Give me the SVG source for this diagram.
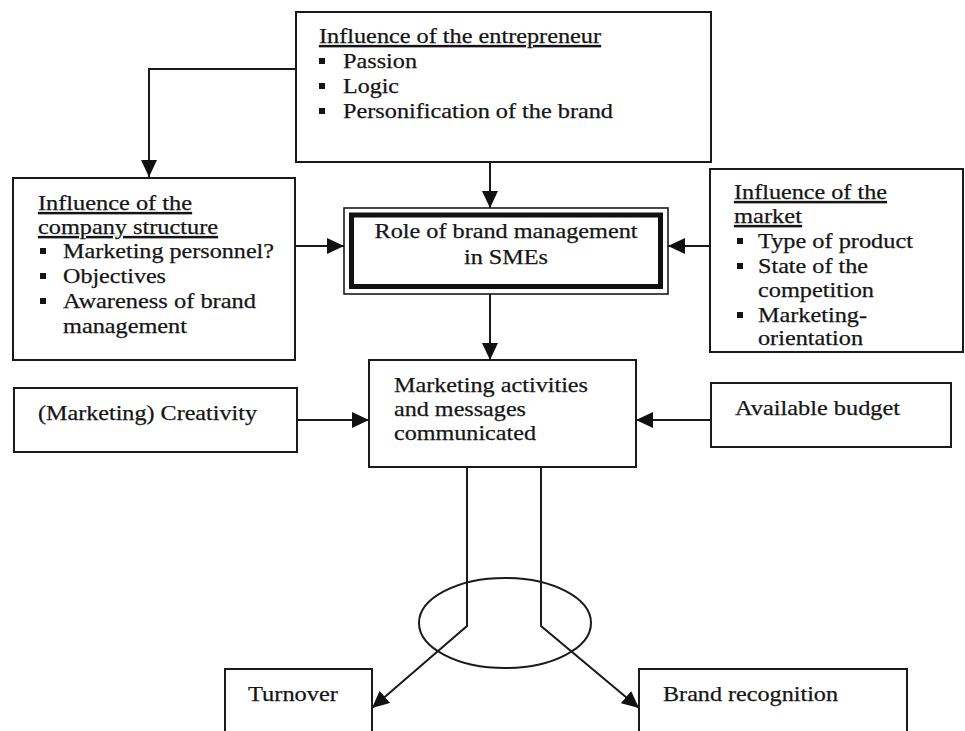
<svg xmlns="http://www.w3.org/2000/svg" width="965" height="731" viewBox="0 0 965 731">
  <style>
    .box { fill: #ffffff; stroke: #1a1a1a; stroke-width: 2; }
    .t { font-family: "Liberation Serif", "Times New Roman", serif; font-size: 21.5px; fill: #151515; stroke: #151515; stroke-width: 0.25px; }
    .u { text-decoration: underline; }
    .bul { fill: #151515; }
    .wire { fill: none; stroke: #1a1a1a; stroke-width: 2; }
    .arrow { fill: none; stroke: #1a1a1a; stroke-width: 2; marker-end: url(#head); }
  </style>
  <defs>
    <marker id="head" markerUnits="userSpaceOnUse" markerWidth="18" markerHeight="16" refX="17" refY="8" orient="auto">
      <path d="M0,0 L17,8 L0,16 z" fill="#111"/>
    </marker>
  </defs>
  <rect width="965" height="731" fill="#ffffff"/>

  <!-- connectors -->
  <g id="connectors">
    <polyline class="arrow" points="295,69 149,69 149,177"/>
    <line class="arrow" x1="490" y1="162" x2="490" y2="208"/>
    <line class="arrow" x1="296" y1="246" x2="344" y2="246"/>
    <line class="arrow" x1="710" y1="246" x2="668" y2="246"/>
    <line class="arrow" x1="490" y1="294" x2="490" y2="360"/>
    <line class="arrow" x1="297" y1="420" x2="369" y2="420"/>
    <line class="arrow" x1="711" y1="420" x2="636" y2="420"/>
    <polyline class="arrow" points="467,467 467,626 372,708"/>
    <polyline class="arrow" points="541,467 541,626 639,708"/>
    <ellipse class="wire" cx="505" cy="623" rx="86" ry="45" stroke-width="1.6"/>
  </g>

  <!-- entrepreneur -->
  <g id="entrepreneur">
    <rect class="box" x="296" y="12" width="415" height="150"/>
    <text class="t u" x="319" y="43" textLength="282" lengthAdjust="spacingAndGlyphs">Influence of the entrepreneur</text>
    <rect class="bul" x="319" y="58" width="6" height="6"/>
    <text class="t" x="343" y="68" textLength="74" lengthAdjust="spacingAndGlyphs">Passion</text>
    <rect class="bul" x="319" y="83" width="6" height="6"/>
    <text class="t" x="343" y="93" textLength="56" lengthAdjust="spacingAndGlyphs">Logic</text>
    <rect class="bul" x="319" y="108" width="6" height="6"/>
    <text class="t" x="343" y="118" textLength="270" lengthAdjust="spacingAndGlyphs">Personification of the brand</text>
  </g>

  <!-- company structure -->
  <g id="company-structure">
    <rect class="box" x="13" y="178" width="282" height="182"/>
    <text class="t u" x="38" y="210" textLength="154" lengthAdjust="spacingAndGlyphs">Influence of the</text>
    <text class="t u" x="38" y="234" textLength="180" lengthAdjust="spacingAndGlyphs">company structure</text>
    <rect class="bul" x="40" y="248" width="6" height="6"/>
    <text class="t" x="63" y="258" textLength="211" lengthAdjust="spacingAndGlyphs">Marketing personnel?</text>
    <rect class="bul" x="40" y="273" width="6" height="6"/>
    <text class="t" x="63" y="283" textLength="103" lengthAdjust="spacingAndGlyphs">Objectives</text>
    <rect class="bul" x="40" y="298" width="6" height="6"/>
    <text class="t" x="63" y="308" textLength="193" lengthAdjust="spacingAndGlyphs">Awareness of brand</text>
    <text class="t" x="63" y="333" textLength="124" lengthAdjust="spacingAndGlyphs">management</text>
  </g>

  <!-- brand management role (double border) -->
  <g id="brand-role">
    <rect x="344" y="208" width="324" height="86" fill="#ffffff" stroke="#1a1a1a" stroke-width="1.6"/>
    <rect x="351.5" y="215" width="309" height="71.5" fill="none" stroke="#111" stroke-width="5"/>
    <text class="t" x="506" y="238" text-anchor="middle" textLength="263" lengthAdjust="spacingAndGlyphs">Role of brand management</text>
    <text class="t" x="506" y="264" text-anchor="middle" textLength="84" lengthAdjust="spacingAndGlyphs">in SMEs</text>
  </g>

  <!-- market -->
  <g id="market">
    <rect class="box" x="710" y="169" width="253" height="183"/>
    <text class="t u" x="734" y="199" textLength="153" lengthAdjust="spacingAndGlyphs">Influence of the</text>
    <text class="t u" x="734" y="223" textLength="68" lengthAdjust="spacingAndGlyphs">market</text>
    <rect class="bul" x="737" y="238" width="6" height="6"/>
    <text class="t" x="758" y="248" textLength="155" lengthAdjust="spacingAndGlyphs">Type of product</text>
    <rect class="bul" x="737" y="263" width="6" height="6"/>
    <text class="t" x="758" y="273" textLength="110" lengthAdjust="spacingAndGlyphs">State of the</text>
    <text class="t" x="758" y="297" textLength="116" lengthAdjust="spacingAndGlyphs">competition</text>
    <rect class="bul" x="737" y="312" width="6" height="6"/>
    <text class="t" x="758" y="322" textLength="109" lengthAdjust="spacingAndGlyphs">Marketing-</text>
    <text class="t" x="758" y="345" textLength="105" lengthAdjust="spacingAndGlyphs">orientation</text>
  </g>

  <!-- creativity -->
  <g id="creativity">
    <rect class="box" x="14" y="388" width="283" height="64"/>
    <text class="t" x="38" y="420" textLength="219" lengthAdjust="spacingAndGlyphs">(Marketing) Creativity</text>
  </g>

  <!-- marketing activities -->
  <g id="marketing-activities">
    <rect class="box" x="369" y="360" width="267" height="107"/>
    <text class="t" x="394" y="392" textLength="194" lengthAdjust="spacingAndGlyphs">Marketing activities</text>
    <text class="t" x="394" y="416" textLength="132" lengthAdjust="spacingAndGlyphs">and messages</text>
    <text class="t" x="394" y="440" textLength="142" lengthAdjust="spacingAndGlyphs">communicated</text>
  </g>

  <!-- budget -->
  <g id="budget">
    <rect class="box" x="711" y="383" width="240" height="64"/>
    <text class="t" x="735" y="415" textLength="165" lengthAdjust="spacingAndGlyphs">Available budget</text>
  </g>

  <!-- turnover -->
  <g id="turnover">
    <rect class="box" x="225" y="669" width="147" height="80"/>
    <text class="t" x="248" y="701" textLength="90" lengthAdjust="spacingAndGlyphs">Turnover</text>
  </g>

  <!-- brand recognition -->
  <g id="brand-recognition">
    <rect class="box" x="639" y="669" width="268" height="80"/>
    <text class="t" x="663" y="701" textLength="175" lengthAdjust="spacingAndGlyphs">Brand recognition</text>
  </g>
</svg>
